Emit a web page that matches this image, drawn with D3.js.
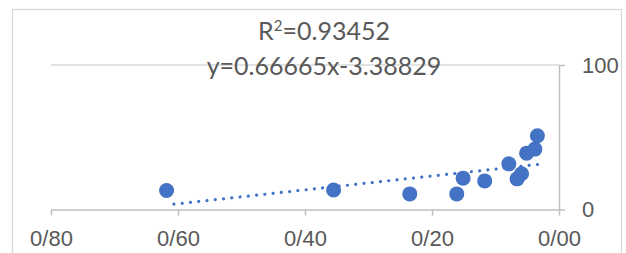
<!DOCTYPE html>
<html>
<head>
<meta charset="utf-8">
<script src="https://cdn.jsdelivr.net/npm/d3@7"></script>
<style>
  html, body { margin: 0; padding: 0; background: #fff; }
  svg { display: block; font-family: Lato, "Open Sans", sans-serif; }
</style>
</head>
<body>
<div id="chart"></div>
<script>
// data (x axis runs right to left)
const xValues = [0.618, 0.355, 0.235, 0.161, 0.151, 0.117, 0.079, 0.066, 0.059, 0.051, 0.038, 0.034];
const yValues = [13.1, 13.5, 10.8, 10.8, 21.7, 19.8, 31.6, 21.2, 24.7, 39.0, 41.8, 51.0];
const xTicks = [0.8, 0.6, 0.4, 0.2, 0.0];
const xTickLabels = ['0/80', '0/60', '0/40', '0/20', '0/00'];
const yTicks = [0, 100];
const trendLabels = [['R', '2', '=0.93452'], ['y=0.66665x-3.38829']];

const width = 626, height = 253;
const blue = '#4472c4';
const axisGray = '#bfbfbf';
const textGray = '#595959';

const svg = d3.select('#chart').append('svg')
  .attr('width', width)
  .attr('height', height);

// chart area border
svg.append('rect')
  .attr('x', 12.5).attr('y', 9.5)
  .attr('width', 609).attr('height', 260)
  .attr('fill', 'none')
  .attr('stroke', '#d9d9d9')
  .attr('stroke-width', 1.3);

const x = d3.scaleLinear().domain([0.8, 0]).range([51, 559]);
const y = d3.scaleLinear().domain([0, 100]).range([209.5, 65]);

// horizontal gridline at 100
svg.append('g')
  .selectAll('line')
  .data(yTicks.filter(d => d > 0))
  .join('line')
  .attr('x1', x(0.8)).attr('x2', x(0))
  .attr('y1', d => y(d)).attr('y2', d => y(d))
  .attr('stroke', '#d9d9d9')
  .attr('stroke-width', 1.5);

// x axis
const xAxis = svg.append('g')
  .attr('transform', `translate(0,${y(0)})`)
  .call(d3.axisBottom(x)
    .tickValues(xTicks)
    .tickFormat((d, i) => xTickLabels[i])
    .tickSize(6)
    .tickSizeOuter(0));
xAxis.select('.domain').attr('stroke', axisGray).attr('stroke-width', 1.5);
xAxis.selectAll('.tick line').attr('stroke', axisGray).attr('stroke-width', 1.5);
xAxis.selectAll('.tick text')
  .attr('y', 36.5).attr('dy', 0)
  .attr('fill', textGray)
  .style('font-size', '22px');

// y axis on the right
const yAxis = svg.append('g')
  .attr('transform', `translate(${x(0)},0)`)
  .call(d3.axisRight(y)
    .tickValues(yTicks)
    .tickSize(6)
    .tickSizeOuter(0)
    .tickPadding(17));
yAxis.select('.domain').attr('stroke', axisGray).attr('stroke-width', 1.5);
yAxis.selectAll('.tick line').attr('stroke', axisGray).attr('stroke-width', 1.5);
yAxis.selectAll('.tick text')
  .attr('fill', textGray)
  .style('font-size', '22px');

// linear trendline (least squares over the points)
const mx = d3.mean(xValues), my = d3.mean(yValues);
const sxy = d3.sum(xValues, (v, i) => (v - mx) * (yValues[i] - my));
const sxx = d3.sum(xValues, v => (v - mx) * (v - mx));
const slope = sxy / sxx;
const icpt = my - slope * mx;
const xExt = d3.extent(xValues);

svg.append('path')
  .datum(xExt)
  .attr('d', d3.line().x(d => x(d)).y(d => y(icpt + slope * d)))
  .attr('fill', 'none')
  .attr('stroke', blue)
  .attr('stroke-width', 3.2)
  .attr('stroke-linecap', 'round')
  .attr('stroke-dasharray', '0.01 8.3');

// points
svg.append('g')
  .selectAll('circle')
  .data(xValues.map((v, i) => [v, yValues[i]]))
  .join('circle')
  .attr('cx', d => x(d[0]))
  .attr('cy', d => y(d[1]))
  .attr('r', 7.5)
  .attr('fill', blue);

// trendline label, the "2" of R2 as a superscript
const label = svg.append('g')
  .selectAll('text')
  .data(trendLabels)
  .join('text')
  .attr('x', 324)
  .attr('y', (d, i) => [40, 75][i])
  .attr('text-anchor', 'middle')
  .attr('fill', textGray)
  .style('font-size', '25px');

label.selectAll('tspan')
  .data(d => d.map((t, i) => ({ t, sup: d.length > 1 && i === 1, after: d.length > 1 && i === 2 })))
  .join('tspan')
  .attr('dy', d => d.sup ? -9 : d.after ? 9 : null)
  .style('font-size', d => d.sup ? '15px' : null)
  .text(d => d.t);
</script>
</body>
</html>
